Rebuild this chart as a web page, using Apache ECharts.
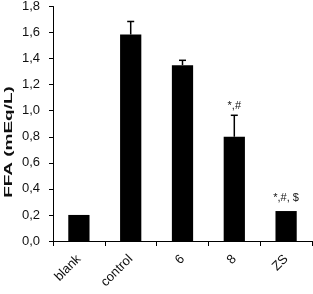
<!DOCTYPE html>
<html><head><meta charset="utf-8">
<script src="https://cdn.jsdelivr.net/npm/echarts@6/dist/echarts.min.js"></script>
<style>html,body{margin:0;padding:0;background:#fff}#c{width:313px;height:294px}</style>
</head><body><div id="c"></div>
<script>
const categories = ['blank', 'control', '6', '8', 'ZS'];
const values = [0.20, 1.585, 1.35, 0.80, 0.23];
const errors = [0, 0.10, 0.037, 0.165, 0];
const annotations = ['', '', '', '*,#', '*,#, $'];
const yTicks = [0, 0.2, 0.4, 0.6, 0.8, 1.0, 1.2, 1.4, 1.6, 1.8];
const yTitle = 'FFA (mEq/L)';

const font = 'Liberation Sans, Arial, sans-serif';
const chart = echarts.init(document.getElementById('c'));
chart.setOption({
  animation: false,
  grid: { left: 53, right: 1, top: 6, bottom: 53 },
  graphic: [{
    type: 'text', x: 9, y: 142, rotation: Math.PI / 2, scaleX: 1.65,
    style: { text: yTitle, fontSize: 11.5, fontWeight: 'bold', fontFamily: font, fill: '#111', align: 'center', verticalAlign: 'middle' }
  }],
  xAxis: {
    type: 'category', data: categories,
    axisLine: { lineStyle: { color: '#000', width: 1 } },
    axisTick: { show: true, length: 5, lineStyle: { color: '#000' } },
    axisLabel: { rotate: 45, margin: 16, color: '#111', fontSize: 13, fontFamily: font }
  },
  yAxis: {
    type: 'value', min: yTicks[0], max: yTicks[yTicks.length - 1], interval: 0.2,
    splitLine: { show: false },
    axisLine: { show: true, lineStyle: { color: '#000', width: 1 } },
    axisTick: { show: true, length: 4, lineStyle: { color: '#000' } },
    axisLabel: { color: '#111', fontSize: 13, fontFamily: font, margin: 13,
      formatter: v => v.toFixed(1).replace('.', ',') }
  },
  series: [
    { type: 'bar', data: values, barWidth: '41%', itemStyle: { color: '#000' }, z: 2 },
    { type: 'custom', z: 3,
      data: categories.map((c, i) => [i, values[i], errors[i]]),
      renderItem: function (params, api) {
        const i = api.value(0), v = api.value(1), e = api.value(2);
        const ann = annotations[i];
        const base = api.coord([i, v]);
        const top = api.coord([i, v + e]);
        const children = [];
        if (e > 0) {
          children.push({ type: 'line', shape: { x1: base[0], y1: base[1], x2: top[0], y2: top[1] }, style: { stroke: '#000', lineWidth: 1.5 } });
          children.push({ type: 'line', shape: { x1: top[0] - 3.5, y1: top[1], x2: top[0] + 3.5, y2: top[1] }, style: { stroke: '#000', lineWidth: 1.5 } });
        }
        if (ann) {
          children.push({ type: 'text', x: top[0], y: top[1] - (e > 0 ? 4 : 8),
            style: { text: ann, fill: '#111', fontSize: 11, fontFamily: font, align: 'center', verticalAlign: 'bottom' } });
        }
        return { type: 'group', children: children };
      }
    }
  ]
});
</script></body></html>
